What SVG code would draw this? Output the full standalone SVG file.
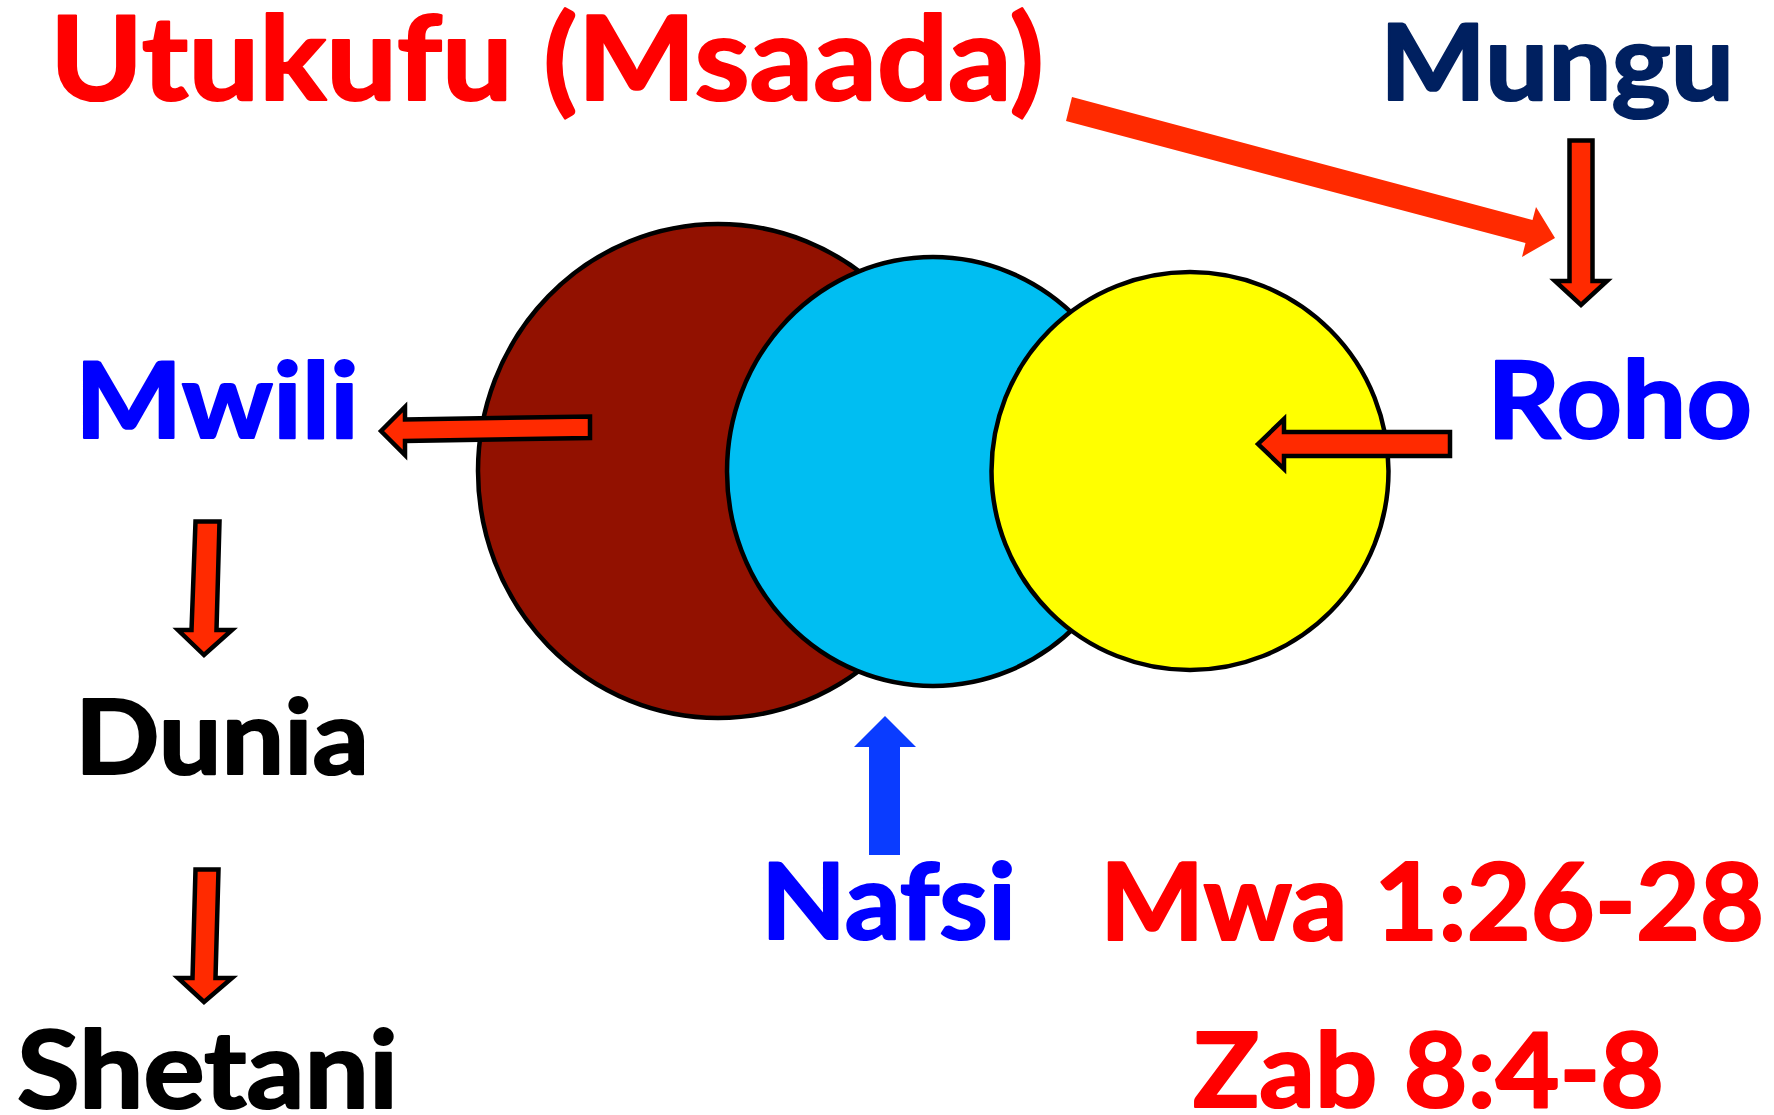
<svg xmlns="http://www.w3.org/2000/svg" width="1774" height="1115" viewBox="0 0 1774 1115">
<style>
  text { font-family: Lato, "Open Sans", "Liberation Sans", sans-serif; font-weight: bold; stroke-width: 2.2; stroke-linejoin: round; }
  .red { fill: #FF0000; stroke: #FF0000; }
  .blue { fill: #0000FF; stroke: #0000FF; }
  .navy { fill: #002060; stroke: #002060; }
  .black { fill: #000000; stroke: #000000; }
  .disc { stroke: #000000; stroke-width: 4.5; }
  .outl { fill: #FF2A00; stroke: #000000; stroke-width: 4.5; stroke-linejoin: miter; stroke-miterlimit: 10; }
  .solid { fill: #FF2A00; }
</style>
<rect width="1774" height="1115" fill="#FFFFFF"/>

<g id="circles">
  <g id="mwili-disc"><ellipse class="disc" cx="718" cy="471" rx="240" ry="247" fill="#921100"/></g>
  <g id="nafsi-disc"><ellipse class="disc" cx="933" cy="471.5" rx="206" ry="214.5" fill="#00BEF2"/></g>
  <g id="roho-disc"><ellipse class="disc" cx="1190" cy="471" rx="198.5" ry="199" fill="#FFFF00"/></g>
</g>

<g id="connectors">
  <polygon class="solid" points="1072,97 1532.5,220 1536,207 1555,238 1522,257 1525.5,243 1066,121"/>
  <polygon class="outl" points="1569.5,140.5 1592.5,140.5 1592.5,281 1607,281 1581,305 1555,281 1569.5,281"/>
  <polygon class="outl" points="381,431 405,407 405,419.5 590,416.5 590,438 405,441 405,455"/>
  <polygon class="outl" points="1258,444 1284,419 1284,432 1450,432 1450,456 1284,456 1284,469"/>
  <polygon class="outl" points="195.5,521.5 219.5,521.5 216.5,630 232,630 204,655 178,630 191.5,630"/>
  <polygon class="outl" points="195.5,869.5 218.5,869.5 215.5,978 232,978 204,1002 178,978 192.5,978"/>
  <polygon fill="#0A3CFF" points="885,716 916,747 900,747 900,855 869,855 869,747 854,747"/>
</g>

<g id="utukufu"><text class="red" x="50" y="100" font-size="116" textLength="994" lengthAdjust="spacingAndGlyphs">Utukufu (Msaada)</text></g>
<g id="mungu"><text class="navy" x="1380" y="100" font-size="106" textLength="354" lengthAdjust="spacingAndGlyphs">Mungu</text></g>
<g id="mwili"><text class="blue" x="75" y="438" font-size="106" textLength="284" lengthAdjust="spacingAndGlyphs">Mwili</text></g>
<g id="roho"><text class="blue" x="1487" y="438" font-size="107" textLength="265" lengthAdjust="spacingAndGlyphs">Roho</text></g>
<g id="dunia"><text class="black" x="75" y="774" font-size="103" textLength="294" lengthAdjust="spacingAndGlyphs">Dunia</text></g>
<g id="shetani"><text class="black" x="17" y="1108" font-size="108" textLength="381" lengthAdjust="spacingAndGlyphs">Shetani</text></g>
<g id="nafsi"><text class="blue" x="761" y="939" font-size="106" textLength="255" lengthAdjust="spacingAndGlyphs">Nafsi</text></g>
<g id="mwa"><text class="red" x="1100" y="940" font-size="107" textLength="664" lengthAdjust="spacingAndGlyphs">Mwa 1:26-28</text></g>
<g id="zab"><text class="red" x="1193" y="1107" font-size="104" textLength="471" lengthAdjust="spacingAndGlyphs">Zab 8:4-8</text></g>
</svg>
